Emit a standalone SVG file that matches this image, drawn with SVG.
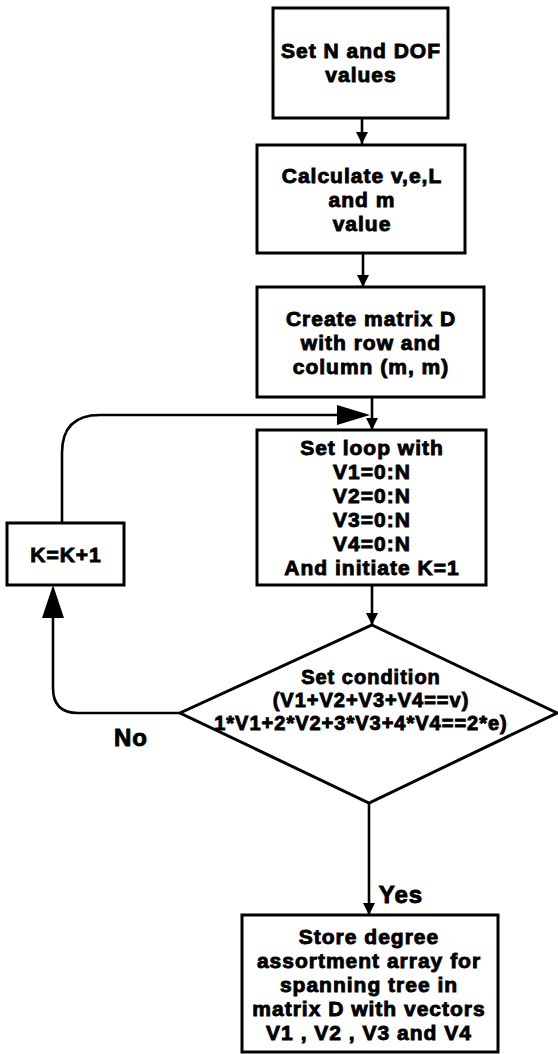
<svg xmlns="http://www.w3.org/2000/svg" width="558" height="1054" viewBox="0 0 558 1054">
<defs>
<style>
.box{fill:#fff;stroke:#000;stroke-width:3}
.ln{fill:none;stroke:#000;stroke-width:2.6}
.t{font-family:"Liberation Sans",Arial,sans-serif;font-weight:bold;font-size:21px;letter-spacing:1px;text-anchor:middle;fill:#000;stroke:#000;stroke-width:0.9}
.sm{font-size:20px}
.lbl{font-size:24px;letter-spacing:1px}
</style>
<marker id="ah" markerWidth="12" markerHeight="12" refX="12" refY="6" orient="auto" markerUnits="userSpaceOnUse">
<path d="M0,0 L12,6 L0,12 Z" fill="#000"/>
</marker>
</defs>
<rect width="558" height="1054" fill="#fff"/>
<g id="connectors">
<line class="ln" x1="362" y1="118" x2="362" y2="144" marker-end="url(#ah)"/>
<line class="ln" x1="363" y1="253" x2="363" y2="287" marker-end="url(#ah)"/>
<line class="ln" x1="372" y1="397" x2="372" y2="430" marker-end="url(#ah)"/>
<line class="ln" x1="372" y1="585" x2="372" y2="625" marker-end="url(#ah)"/>
<line class="ln" x1="369" y1="803" x2="369" y2="915" marker-end="url(#ah)"/>
<path class="ln" d="M180,713 L78,713 Q53,713 53,688 L53,605"/>
<path d="M53,585 L42,618 L64,618 Z" fill="#000"/>
<path class="ln" d="M62,523 L62,453 Q62,415 100,415 L345,415"/>
<path d="M370,415 L337,405 L337,425 Z" fill="#000"/>
<text class="t lbl" x="131" y="746">No</text>
<text class="t lbl" x="401" y="903">Yes</text>
</g>
<g id="n1">
<rect class="box" x="273" y="8" width="175" height="110"/>
<text class="t" x="361" y="58">Set N and DOF</text>
<text class="t" x="361" y="82">values</text>
</g>
<g id="n2">
<rect class="box" x="257" y="145" width="208" height="108"/>
<text class="t" x="362" y="183">Calculate v,e,L</text>
<text class="t" x="362" y="207">and m</text>
<text class="t" x="362" y="231">value</text>
</g>
<g id="n3">
<rect class="box" x="257" y="287" width="227" height="110"/>
<text class="t" x="371" y="326">Create matrix D</text>
<text class="t" x="371" y="350">with row and</text>
<text class="t" x="371" y="374">column (m, m)</text>
</g>
<g id="n4">
<rect class="box" x="257" y="430" width="229" height="155"/>
<text class="t" x="372" y="455">Set loop with</text>
<text class="t" x="372" y="479">V1=0:N</text>
<text class="t" x="372" y="503">V2=0:N</text>
<text class="t" x="372" y="527">V3=0:N</text>
<text class="t" x="372" y="551">V4=0:N</text>
<text class="t" x="372" y="575">And initiate K=1</text>
</g>
<g id="n5">
<rect class="box" x="7" y="523" width="117" height="62"/>
<text class="t" x="66" y="562">K=K+1</text>
</g>
<g id="n6">
<polygon class="box" points="372,625 557,713 369,803 180,713"/>
<text class="t sm" x="371" y="684">Set condition</text>
<text class="t sm" x="371" y="707">(V1+V2+V3+V4==v)</text>
<text class="t sm" x="361" y="730">1*V1+2*V2+3*V3+4*V4==2*e)</text>
</g>
<g id="n7">
<rect class="box" x="242" y="915" width="256" height="137"/>
<text class="t" x="369" y="944">Store degree</text>
<text class="t" x="369" y="968">assortment array for</text>
<text class="t" x="369" y="992">spanning tree  in</text>
<text class="t" x="369" y="1016">matrix D with vectors</text>
<text class="t" x="369" y="1040">V1 , V2 , V3 and V4</text>
</g>
</svg>
